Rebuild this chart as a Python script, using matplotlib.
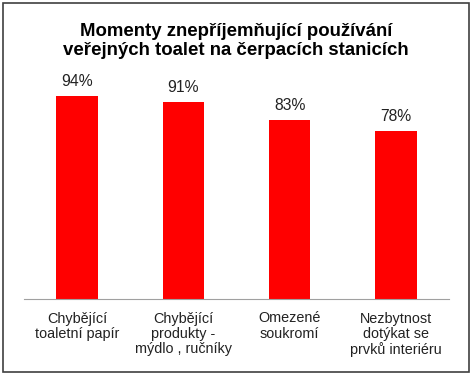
import matplotlib.pyplot as plt
from matplotlib.patches import Rectangle

categories = ['Chybějící\ntoaletní papír',
              'Chybějící\nprodukty -\nmýdlo , ručníky',
              'Omezené\nsoukromí',
              'Nezbytnost\ndotýkat se\nprvků interiéru']
values = [94, 91, 83, 78]
labels = ['94%', '91%', '83%', '78%']

plt.rcParams['font.family'] = ['Liberation Sans', 'DejaVu Sans']

fig = plt.figure(figsize=(4.72, 3.75), dpi=100)
ax = fig.add_axes([24 / 472, 76 / 375, 425 / 472, 216 / 375])

x = range(len(values))
bars = ax.bar(x, values, width=0.39, color='#ff0000')
for b, t in zip(bars, labels):
    ax.annotate(t, (b.get_x() + b.get_width() / 2, b.get_height()),
                xytext=(0, 5), textcoords='offset points',
                ha='center', va='bottom', fontsize=11.3, color='#222222')

ax.set_xlim(-0.5, 3.5)
ax.set_ylim(0, 100)
ax.set_xticks(list(x))
ax.set_xticklabels(categories, fontsize=10.4, color='#222222', linespacing=1.12)
ax.tick_params(axis='x', length=0, pad=9)
ax.set_yticks([])
for s in ['top', 'left', 'right']:
    ax.spines[s].set_visible(False)
ax.spines['bottom'].set_color('#a0a0a0')

fig.text(0.5, 1 - 41 / 375, 'Momenty znepříjemňující používání\nveřejných toalet na čerpacích stanicích',
         ha='center', va='center', fontsize=13.4, fontweight='bold', linespacing=1.1)

fig.patches.append(Rectangle((3 / 472, 3 / 375), 466 / 472, 369 / 375,
                             transform=fig.transFigure, fill=False,
                             edgecolor='#404040', linewidth=1.2))

plt.savefig('out.png', dpi=100)
